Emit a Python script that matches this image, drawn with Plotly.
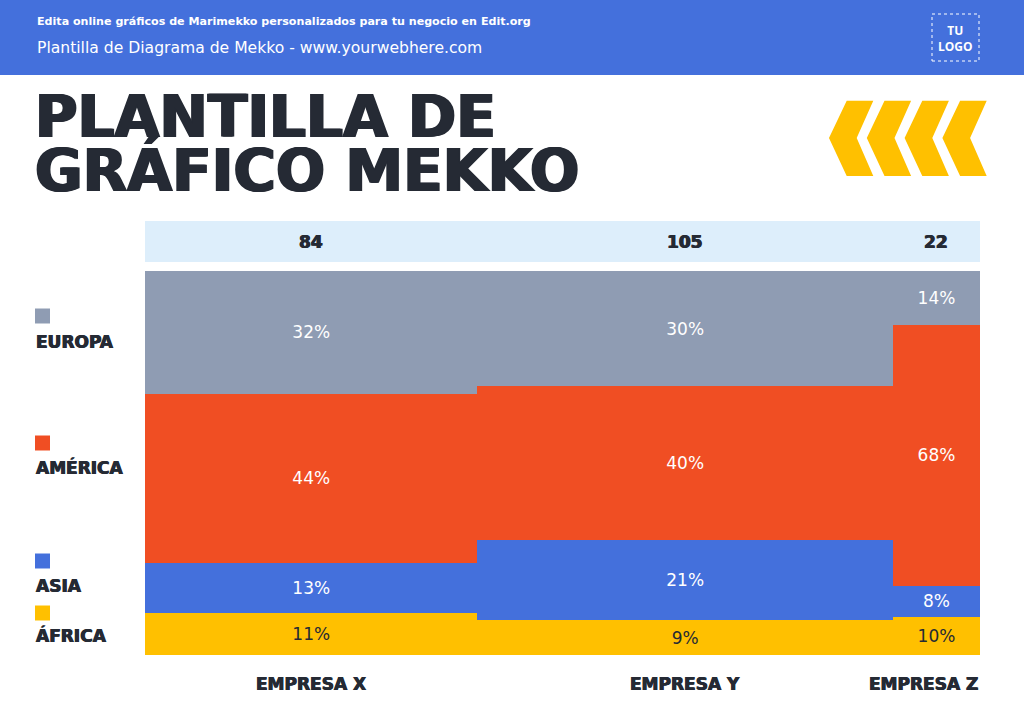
import plotly.graph_objects as go

# datos del gráfico
empresas = ["EMPRESA X", "EMPRESA Y", "EMPRESA Z"]
totales = [84, 105, 22]
regiones = ["ÁFRICA", "ASIA", "AMÉRICA", "EUROPA"]
africa = [11, 9, 10]
asia = [13, 21, 8]
america = [44, 40, 68]
europa = [32, 30, 14]

W, H = 1024, 724
AZUL = "#4470DC"
OSCURO = "#252A34"
ANCHA = "DejaVu Sans"
colores = {"ÁFRICA": "#FFC000", "ASIA": "#4470DC", "AMÉRICA": "#F04E23", "EUROPA": "#8F9CB3"}
color_texto = {"ÁFRICA": OSCURO, "ASIA": "white", "AMÉRICA": "white", "EUROPA": "white"}


def px(x):
    return x / W


def py(y):
    return 1 - y / H


def engorde(n, color=OSCURO):
    # sombra horizontal para simular una fuente más gruesa
    return f"{n}px 0 0 {color}, -{n}px 0 0 {color}"


# posiciones de columnas a partir de los totales
izq = [sum(totales[:i]) for i in range(len(totales))]
centros = [izq[i] + totales[i] / 2 for i in range(len(totales))]
total = sum(totales)

fig = go.Figure()
for reg, vals in zip(regiones, [africa, asia, america, europa]):
    fig.add_trace(go.Bar(
        x=centros,
        y=vals,
        width=totales,
        name=reg,
        marker=dict(color=colores[reg], line=dict(width=0)),
        text=[f"{v}%" for v in vals],
        textposition="inside",
        insidetextanchor="middle",
        textangle=0,
        textfont=dict(family=ANCHA, size=17, color=color_texto[reg]),
        hoverinfo="skip",
    ))

shapes = []
annotations = []

# banda superior
shapes.append(dict(type="rect", xref="paper", yref="paper", x0=0, x1=1, y0=py(75), y1=1,
                   fillcolor=AZUL, line=dict(width=0), layer="below"))
annotations.append(dict(text="Edita online gráficos de Marimekko personalizados para tu negocio en Edit.org",
                        x=px(35), y=py(22), xref="paper", yref="paper", xanchor="left", yanchor="middle",
                        showarrow=False, font=dict(family=ANCHA, size=11.1, color="white", weight="bold")))
annotations.append(dict(text="Plantilla de Diagrama de Mekko - www.yourwebhere.com",
                        x=px(35), y=py(48), xref="paper", yref="paper", xanchor="left", yanchor="middle",
                        showarrow=False, font=dict(family=ANCHA, size=15.6, color="white")))

# logo
shapes.append(dict(type="rect", xref="paper", yref="paper", x0=px(932), x1=px(979), y0=py(61), y1=py(14),
                   line=dict(color="white", width=1, dash="dot")))
annotations.append(dict(text="TU<br>LOGO", x=px(955.5), y=py(38), xref="paper", yref="paper",
                        xanchor="center", yanchor="middle", showarrow=False,
                        font=dict(family="Open Sans", size=12, color="white", weight="bold")))

# título (dos líneas)
for linea, yc in [("PLANTILLA DE", 117), ("GRÁFICO MEKKO", 171)]:
    annotations.append(dict(text=linea, x=px(33), y=py(yc), xref="paper", yref="paper",
                            xanchor="left", yanchor="middle", showarrow=False,
                            font=dict(family=ANCHA, size=58, color=OSCURO, weight="bold",
                                      shadow=engorde(1.2))))

# chevrones amarillos
for k in range(4):
    d = k * 37.8
    pts = [(846.7 + d, 100.7), (873.3 + d, 100.7), (856.7 + d, 138), (873.3 + d, 176),
           (846.7 + d, 176), (829 + d, 138)]
    path = "M " + " L ".join(f"{px(a):.5f},{py(b):.5f}" for a, b in pts) + " Z"
    shapes.append(dict(type="path", xref="paper", yref="paper", path=path,
                       fillcolor="#FFC000", line=dict(width=0)))

# banda de totales
shapes.append(dict(type="rect", xref="paper", yref="paper", x0=px(145), x1=px(980), y0=py(262), y1=py(221),
                   fillcolor="#DDEEFB", line=dict(width=0), layer="below"))
for c, t in zip(centros, totales):
    annotations.append(dict(text=str(t), x=c, y=py(242), xref="x", yref="paper", showarrow=False,
                            xanchor="center", yanchor="middle",
                            font=dict(family=ANCHA, size=17, color=OSCURO, weight="bold",
                                      shadow=engorde(0.6))))

# etiquetas de empresas
for i, (c, e) in enumerate(zip(centros, empresas)):
    ultima = i == len(empresas) - 1
    annotations.append(dict(text=e, x=total if ultima else c, y=py(684), xref="x", yref="paper",
                            xanchor="right" if ultima else "center", yanchor="middle", showarrow=False,
                            font=dict(family=ANCHA, size=17, color=OSCURO, weight="bold",
                                      shadow=engorde(0.5))))

# leyenda manual
leyenda = {"EUROPA": (316, 342), "AMÉRICA": (443, 467), "ASIA": (561, 586), "ÁFRICA": (613, 635)}
for reg in ["EUROPA", "AMÉRICA", "ASIA", "ÁFRICA"]:
    ys, yt = leyenda[reg]
    shapes.append(dict(type="rect", xref="paper", yref="paper", x0=px(35), x1=px(50), y0=py(ys + 7.5),
                       y1=py(ys - 7.5), fillcolor=colores[reg], line=dict(width=0)))
    annotations.append(dict(text=reg, x=px(34), y=py(yt), xref="paper", yref="paper", xanchor="left",
                            yanchor="middle", showarrow=False,
                            font=dict(family=ANCHA, size=17, color=OSCURO, weight="bold",
                                      shadow=engorde(0.5))))

fig.update_layout(
    width=W, height=H,
    margin=dict(l=0, r=0, t=0, b=0),
    paper_bgcolor="white", plot_bgcolor="white",
    barmode="stack",
    showlegend=False,
    xaxis=dict(domain=[px(145), px(980)], range=[0, total], visible=False, fixedrange=True),
    yaxis=dict(domain=[py(655), py(271)], range=[0, 100], visible=False, fixedrange=True),
    shapes=shapes,
    annotations=annotations,
    uniformtext=dict(minsize=17, mode="show"),
)

fig.write_html("out.html", config={"displayModeBar": False},
               post_script="document.body.style.margin='0';")
